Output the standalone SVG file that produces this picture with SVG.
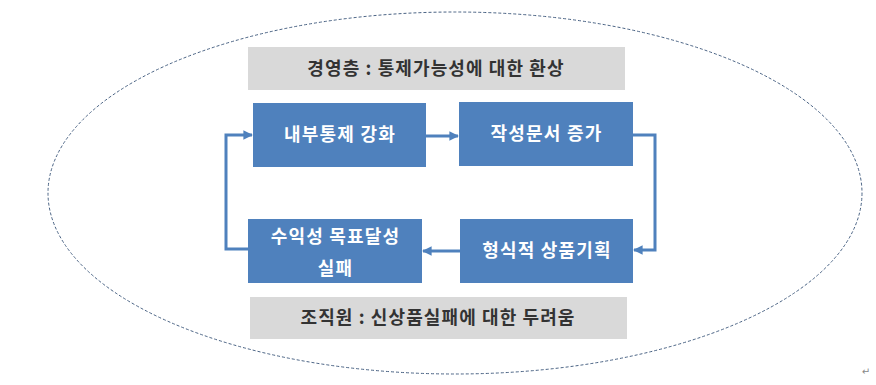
<svg xmlns="http://www.w3.org/2000/svg" width="876" height="385" viewBox="0 0 876 385">
<style>
.blue{fill:#4f81bd}
.gray{fill:#d9d9d9}
.wt{fill:#ffffff;font-family:"Noto Sans CJK KR","Noto Sans",sans-serif;font-weight:bold;font-size:18px;letter-spacing:1.2px;text-anchor:middle}
.dt{fill:#333333;font-family:"Noto Sans CJK KR","Noto Sans",sans-serif;font-weight:bold;font-size:18px;letter-spacing:1.1px;text-anchor:middle}
.conn{fill:none;stroke:#4f81bd;stroke-width:3;marker-end:url(#ah)}
</style>
<defs>
<marker id="ah" viewBox="0 0 10 10" refX="9" refY="5" markerWidth="3.2" markerHeight="3.2" orient="auto" markerUnits="strokeWidth">
<path d="M0,0 L10,5 L0,10 z" fill="#4f81bd"/>
</marker>
</defs>
<rect width="876" height="385" fill="#ffffff"/>
<ellipse cx="455" cy="193" rx="407" ry="181" fill="none" stroke="#4a6384" stroke-width="1" stroke-dasharray="3,2"/>
<g id="top-label">
<rect class="gray" x="248" y="47" width="377" height="43"/>
<text class="dt" x="436" y="75">경영층 : 통제가능성에 대한 환상</text>
</g>
<g id="bottom-label">
<rect class="gray" x="250" y="297" width="377" height="42"/>
<text class="dt" x="438" y="324">조직원 : 신상품실패에 대한 두려움</text>
</g>
<g id="n1">
<rect class="blue" x="253" y="103" width="173" height="64"/>
<text class="wt" x="340" y="141">내부통제 강화</text>
</g>
<g id="n2">
<rect class="blue" x="459" y="102" width="174" height="64"/>
<text class="wt" x="546.5" y="140">작성문서 증가</text>
</g>
<g id="n3">
<rect class="blue" x="460" y="219" width="173" height="64"/>
<text class="wt" x="547" y="257">형식적 상품기획</text>
</g>
<g id="n4">
<rect class="blue" x="248" y="219" width="174" height="64"/>
<text class="wt" x="335.5" y="243">수익성 목표달성</text>
<text class="wt" x="335.5" y="275">실패</text>
</g>
<g id="connectors">
<path class="conn" d="M426,136 L458,136"/>
<path class="conn" d="M633,135 L655,135 L655,250 L634,250"/>
<path class="conn" d="M460,251 L423,251"/>
<path class="conn" d="M248,249 L226,249 L226,135 L252,135"/>
</g>
<text x="866" y="375" font-family="DejaVu Sans,sans-serif" font-size="10" fill="#888888" text-anchor="middle">↵</text>
</svg>
